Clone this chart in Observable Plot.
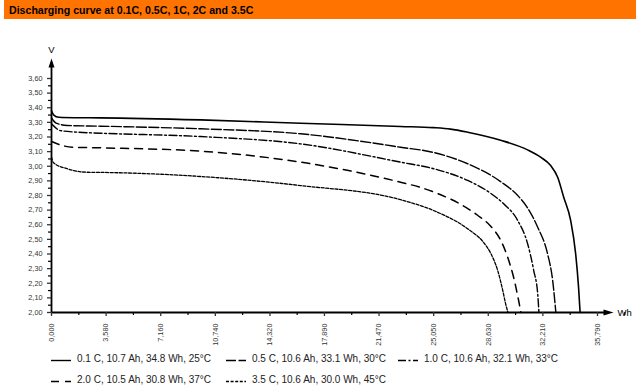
<!DOCTYPE html>
<html><head><meta charset="utf-8">
<script src="https://cdn.jsdelivr.net/npm/d3@7"></script>
<script src="https://cdn.jsdelivr.net/npm/@observablehq/plot@0.6"></script>
<style>
body{margin:0;background:#fff;font-family:"Liberation Sans",Arial,sans-serif;}
#wrap{position:relative;width:636px;height:387px;overflow:hidden;background:#fff;}
#title{position:absolute;left:4px;top:0;width:632px;height:19px;background:#ff7300;color:#000;font-weight:bold;font-size:10.6px;line-height:20px;padding-left:5px;box-sizing:border-box;}
#chart{position:absolute;left:0;top:20px;}
.leg{position:absolute;font-size:10px;color:#222;white-space:nowrap;display:flex;align-items:center;height:12px;}
.leg svg{margin-right:6px;}
</style></head><body>
<div id="wrap"><div id="title">Discharging curve at 0.1C, 0.5C, 1C, 2C and 3.5C</div><div id="chart"></div><div id="legend"></div></div>
<script>
// ---- data (Wh, V) ----
const c01 = [[0,3.38],[150,3.35],[480,3.335],[1500,3.332],[3210,3.331],[9770,3.317],[16330,3.294],[22880,3.272],[25050,3.264],[26160,3.254],[27280,3.233],[29440,3.178],[31210,3.112],[32060,3.062],[32720,3.005],[33180,2.925],[33570,2.79],[34030,2.63],[34360,2.40],[34550,2.17],[34650,2.0]];
const c05 = [[0,3.33],[300,3.295],[1030,3.279],[3210,3.274],[9770,3.256],[16330,3.222],[22880,3.13],[25050,3.094],[27280,3.017],[29440,2.895],[30560,2.80],[31210,2.715],[31870,2.583],[32520,2.40],[32850,2.22],[33060,2.0]];
const c10 = [[0,3.29],[590,3.244],[1690,3.233],[3210,3.226],[9770,3.203],[16330,3.153],[22880,3.028],[25050,2.983],[27280,2.903],[28790,2.815],[29640,2.743],[30560,2.629],[31210,2.47],[31610,2.287],[31870,2.128],[31950,2.0]];
const c20 = [[0,3.17],[130,3.164],[700,3.142],[1440,3.13],[3210,3.126],[9770,3.103],[16330,3.028],[22880,2.891],[24200,2.855],[25510,2.805],[26820,2.74],[27930,2.665],[28790,2.59],[29440,2.495],[29900,2.378],[30290,2.241],[30620,2.082],[30770,2.0]];
const c35 = [[0,3.062],[130,3.024],[1030,2.983],[2340,2.959],[3210,2.958],[9770,2.93],[16330,2.868],[22880,2.771],[25050,2.697],[27280,2.572],[28330,2.478],[28790,2.405],[29240,2.29],[29570,2.155],[29770,2.059],[29920,2.0]];

const legendLabels = ["0.1 C, 10.7 Ah, 34.8 Wh, 25°C","0.5 C, 10.6 Ah, 33.1 Wh, 30°C","1.0 C, 10.6 Ah, 32.1 Wh, 33°C","2.0 C, 10.5 Ah, 30.8 Wh, 37°C","3.5 C, 10.6 Ah, 30.0 Wh, 45°C"];
const dashes = [null, "10,2.5", "8,2.5,2,2.5", "8,6", "3,1.6"];
const widths = [1.6, 1.4, 1.4, 1.5, 1.3];

const xTicks = [0,3580,7160,10740,14320,17890,21470,25050,28630,32210,35790];
const xTickLabels = ["0,000","3,580","7,160","10,740","14,320","17,890","21,470","25,050","28,630","32,210","35,790"];
const yTicks = [2.0,2.1,2.2,2.3,2.4,2.5,2.6,2.7,2.8,2.9,3.0,3.1,3.2,3.3,3.4,3.5,3.6];
const axisLabels = ["V","Wh"];

// derived helpers
const xMinor = xTicks.slice(0,-1).map((d,i)=> (d + xTicks[i+1])/2).concat([35790 + 1790]);
const yMinor = yTicks.slice(0,-1).map(d => d + 0.05);
const xLabelMap = new Map(xTicks.map((d,i)=>[d, xTickLabels[i]]));
const series = [c01,c05,c10,c20,c35];

const xTip = 36840, yTip = 3.737;
const arrowRight = {draw(c){ c.moveTo(0,0); c.lineTo(-10,-3); c.lineTo(-10,3); c.closePath(); }};
const arrowUp = {draw(c){ c.moveTo(0,0); c.lineTo(-3,9); c.lineTo(3,9); c.closePath(); }};

const marks = [
  Plot.ruleX([0], {y1: 2.0, y2: yTip - 0.03, stroke: "#000", strokeWidth: 1.8}),
  Plot.ruleY([2.0], {x1: 0, x2: xTip - 300, stroke: "#000", strokeWidth: 1.8}),
  Plot.dot([0], {x: xTip, y: 2.0, symbol: arrowRight, fill: "#000", stroke: "none", r: 5}),
  Plot.dot([0], {x: 0, y: yTip, symbol: arrowUp, fill: "#000", stroke: "none", r: 5}),
  Plot.axisY(yTicks, {tickSize: 4, tickPadding: 5, fontSize: 7.3, strokeWidth: 1.3, tickFormat: d => d.toFixed(2).replace(".", ","), label: null, color: "#333"}),
  Plot.axisY(yMinor, {tickSize: 3, tickFormat: () => "", label: null, strokeWidth: 1.2}),
  Plot.axisX(xTicks, {tickSize: 4, tickPadding: 7, tickRotate: -90, fontSize: 7.3, strokeWidth: 1.3, tickFormat: d => xLabelMap.get(d), label: null, color: "#333"}),
  Plot.axisX(xMinor, {tickSize: 3, tickFormat: () => "", label: null, strokeWidth: 1.2}),
  Plot.text([axisLabels[0]], {x: 0, y: 3.798, fontSize: 9.5, fill: "#000"}),
  Plot.text([axisLabels[1]], {x: 37100, y: 2.0, textAnchor: "start", fontSize: 9.5, fill: "#000"})
];
series.forEach((s, i) => {
  marks.push(Plot.line(s, {x: d => d[0], y: d => d[1], stroke: "#000", strokeWidth: widths[i], strokeDasharray: dashes[i] || undefined, curve: "monotone-x"}));
});

const chart = Plot.plot({
  width: 636, height: 325,
  marginLeft: 51, marginRight: 39, marginTop: 58, marginBottom: 33,
  style: {fontFamily: "'Liberation Sans', Arial, sans-serif", background: "transparent", overflow: "visible"},
  x: {domain: [0, 35790]},
  y: {domain: [2.0, 3.6]},
  marks
});
document.getElementById("chart").appendChild(chart);

// legend
const legPos = [[51,352],[226,352],[398,352],[51,373],[226,373]];
const leg = d3.select("#legend");
legendLabels.forEach((lab, i) => {
  const item = leg.append("div").attr("class","leg").style("left", legPos[i][0]+"px").style("top", legPos[i][1]+"px");
  const sv = item.append("svg").attr("width",20).attr("height",8);
  sv.append("line").attr("x1",0).attr("x2",20).attr("y1",6.5).attr("y2",6.5).attr("stroke","#000").attr("stroke-width",1.4).attr("stroke-dasharray", dashes[i]);
  item.append("span").text(lab);
});
</script>
</body></html>
